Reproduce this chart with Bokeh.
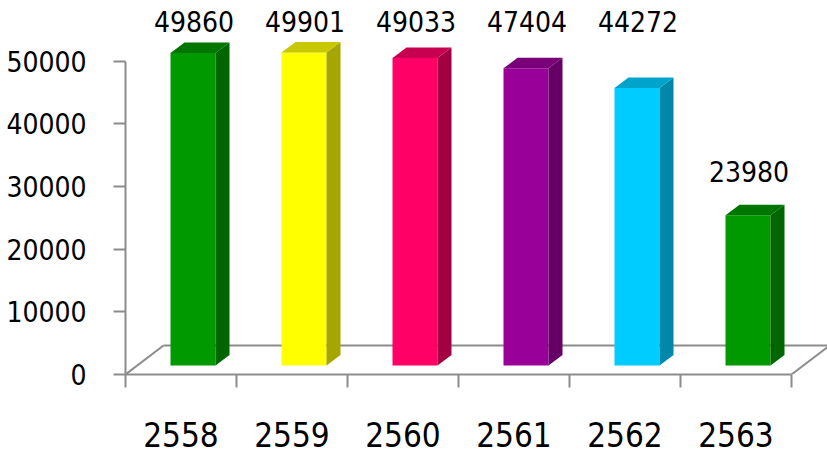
import numpy as np
from bokeh.plotting import figure
from bokeh.models import FixedTicker, Range1d
from bokeh.core.properties import value
from bokeh.embed import file_html
from bokeh.resources import INLINE

# ---- data ----
years = ["2558", "2559", "2560", "2561", "2562", "2563"]
counts = [49860, 49901, 49033, 47404, 44272, 23980]
front_colors = ["#009900", "#FFFF00", "#FF0066", "#990099", "#00CCFF", "#009900"]
side_colors = ["#006600", "#A6A600", "#A30042", "#660066", "#0088AA", "#006600"]
top_colors = ["#007500", "#C8C800", "#C80050", "#7A007A", "#00A3CC", "#007500"]
y_ticks = [0, 10000, 20000, 30000, 40000, 50000]

# ---- geometry helpers (pixel -> data units) ----
PX_X = 111.0              # pixels per category slot
PX_Y = 313.5 / 50000.0    # pixels per value unit
def dx(px): return px / PX_X
def dy(px): return px / PX_Y

FONT = "DejaVu Sans Condensed"
GRAY = "#8C8C8C"

p = figure(width=827, height=453, output_backend="svg", toolbar_location=None,
           x_range=Range1d(0, 702 / PX_X), y_range=Range1d(0, dy(374)),
           min_border_left=125, min_border_right=0, min_border_top=0,
           min_border_bottom=79)
p.outline_line_color = None
p.xgrid.visible = False
p.ygrid.visible = False
p.background_fill_color = "white"
p.border_fill_color = "white"

n = len(counts)
v = np.array(counts, dtype=float)

# ---- floor ----
D_X, D_Y = dx(38), dy(29)
p.patch([0, n, n + D_X, D_X], [0, 0, D_Y, D_Y], fill_color="white", line_color=None)
p.multi_line(xs=[[D_X, n + D_X + 1], [0, D_X], [n, n + D_X]],
             ys=[[D_Y, D_Y], [0, D_Y], [0, D_Y]],
             line_color=GRAY, line_width=2)

# ---- 3D bars ----
c = np.arange(n) + 0.5 + dx(12)
half = dx(22.5)
left, right = c - half, c + half
base = dy(9)
top = v + base
sx, sy = dx(14), dy(10.5)

p.quad(left=left, right=right, bottom=base, top=top,
       fill_color=front_colors, line_color=None)
side_xs = [[r, r + sx, r + sx, r] for r in right]
side_ys = [[base, base + sy, t + sy, t] for t in top]
p.patches(side_xs, side_ys, fill_color=side_colors, line_color=None)
top_xs = [[l, l + sx, r + sx, r] for l, r in zip(left, right)]
top_ys = [[t, t + sy, t + sy, t] for t in top]
p.patches(top_xs, top_ys, fill_color=top_colors, line_color=None)

# ---- value labels ----
label_y = np.minimum(v * 1.35, dy(353))
p.text(x=c + dx(1), y=label_y, text=[str(x) for x in counts],
       text_font=value(FONT), text_font_size="28px", text_color="black",
       text_align="center", text_baseline="middle")

# ---- y axis ----
ya = p.yaxis[0]
ya.ticker = FixedTicker(ticks=y_ticks)
ya.bounds = (0, 50000)
ya.major_label_overrides = {t: str(t) for t in y_ticks}
ya.axis_line_color = GRAY
ya.axis_line_width = 2
ya.major_tick_line_color = GRAY
ya.major_tick_line_width = 2
ya.major_tick_out = 12
ya.major_tick_in = 0
ya.minor_tick_line_color = None
ya.major_label_text_font = FONT
ya.major_label_text_font_size = "28px"
ya.major_label_text_color = "black"
ya.major_label_standoff = 27

# ---- x axis ----
xa = p.xaxis[0]
centers = [i + 0.5 for i in range(n)]
xa.ticker = FixedTicker(ticks=centers, minor_ticks=list(range(n + 1)))
xa.bounds = (0, n)
xa.major_label_overrides = {t: y for t, y in zip(centers, years)}
xa.axis_line_color = GRAY
xa.axis_line_width = 2
xa.major_tick_line_color = None
xa.major_tick_out = 0
xa.major_tick_in = 0
xa.minor_tick_line_color = GRAY
xa.minor_tick_line_width = 2
xa.minor_tick_out = 13
xa.minor_tick_in = 0
xa.major_label_text_font = FONT
xa.major_label_text_font_size = "33px"
xa.major_label_text_color = "black"
xa.major_label_standoff = 34

open("out.html", "w").write(file_html(p, INLINE))
